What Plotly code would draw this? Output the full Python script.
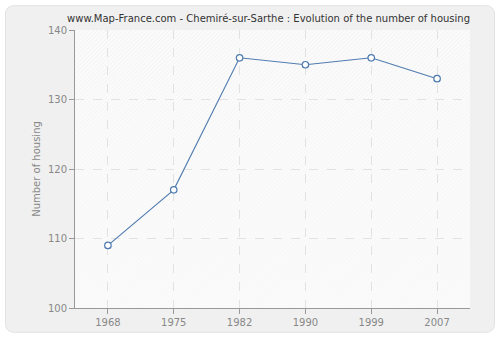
import base64
import plotly.graph_objects as go

# Housing counts per census year
years = ["1968", "1975", "1982", "1990", "1999", "2007"]
housing = [109, 117, 136, 135, 136, 133]
y_ticks = [100, 110, 120, 130, 140]

L, R, T, B = 75, 30, 30, 30
W, H = 500, 340
pw, ph = W - L - R, H - T - B

# background: rounded grey frame plus a diagonally hatched plotting area
bg_svg = (
    f'<svg xmlns="http://www.w3.org/2000/svg" width="{W}" height="{H}" viewBox="0 0 {W} {H}">'
    '<defs><pattern id="h" width="3" height="3" patternUnits="userSpaceOnUse" '
    'patternTransform="rotate(45)"><rect width="3" height="3" fill="#fbfbfb"/>'
    '<line x1="0" y1="0" x2="0" y2="3" stroke="#eeeeee" stroke-width="1"/></pattern>'
    '<linearGradient id="g" x1="0" y1="0" x2="0" y2="1">'
    '<stop offset="0" stop-color="#fafafa" stop-opacity="0"/>'
    '<stop offset="1" stop-color="#fafafa" stop-opacity="0.75"/></linearGradient></defs>'
    f'<rect x="0" y="0" width="{W}" height="{H}" fill="#ffffff"/>'
    f'<rect x="5.5" y="5.5" width="{W - 11}" height="{H - 11}" rx="8" ry="8" '
    'fill="#f0f0f0" stroke="#e2e2e2" stroke-width="1"/>'
    f'<rect x="{L}" y="{T}" width="{pw}" height="{ph}" fill="url(#h)"/>'
    f'<rect x="{L}" y="{T}" width="{pw}" height="{ph}" fill="url(#g)"/></svg>'
)
bg_uri = "data:image/svg+xml;base64," + base64.b64encode(bg_svg.encode()).decode()

fig = go.Figure()

fig.add_trace(go.Scatter(
    x=years, y=housing, mode="lines+markers",
    line=dict(color="#4f7bb0", width=1.1),
    marker=dict(symbol="circle", size=6.5, color="white",
                line=dict(color="#4f7bb0", width=1.2)),
    showlegend=False,
))

fig.add_layout_image(dict(
    source=bg_uri, xref="paper", yref="paper",
    x=-L / pw, y=1 + T / ph, sizex=W / pw, sizey=H / ph,
    xanchor="left", yanchor="top", sizing="stretch", layer="below",
))

axis_common = dict(
    showline=True, linecolor="#999999", linewidth=1,
    ticks="outside", ticklen=5, tickcolor="#999999",
    tickfont=dict(color="#888888", size=10),
    showgrid=True, gridcolor="#e2e2e2", griddash="dash", gridwidth=1,
    zeroline=False,
)

fig.update_layout(
    width=W, height=H,
    margin=dict(l=L, r=R, t=T, b=B),
    paper_bgcolor="white",
    plot_bgcolor="rgba(0,0,0,0)",
    font=dict(family="DejaVu Sans", size=10, color="#888888"),
    title=dict(text="www.Map-France.com - Chemiré-sur-Sarthe : Evolution of the number of housing",
               x=0.49, xref="paper", xanchor="center", y=1 - 18 / H, yanchor="middle",
               font=dict(size=10, color="#333333")),
    xaxis=dict(type="category", range=[-0.5, 5.5], **axis_common),
    yaxis=dict(range=[100, 140], tickvals=y_ticks, title=dict(
        text="Number of housing", font=dict(size=10, color="#888888"), standoff=5),
        **axis_common),
)

fig.write_html("out.html")
